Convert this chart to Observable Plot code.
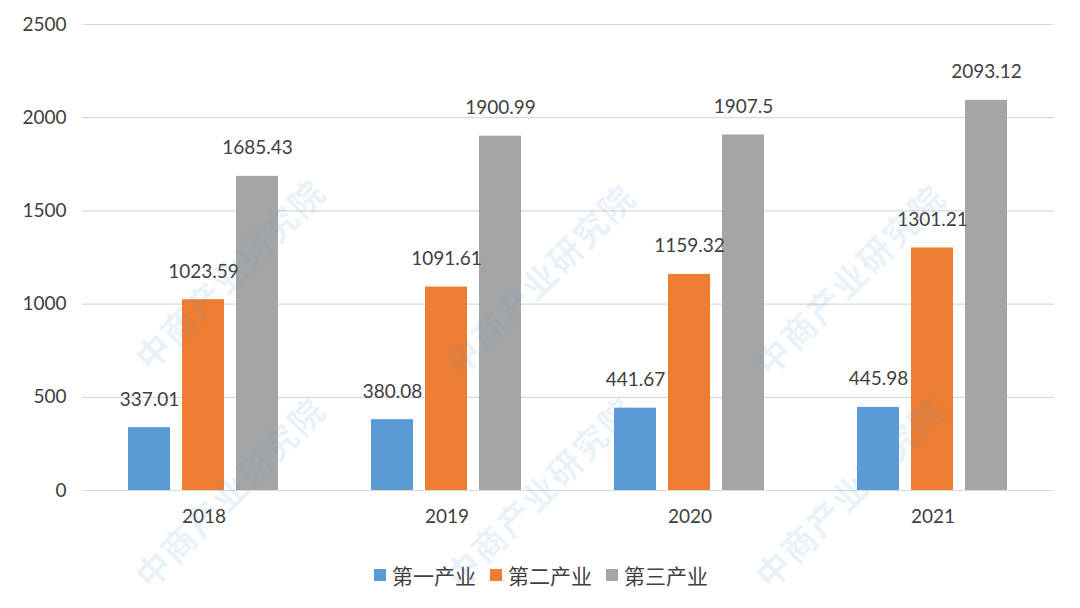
<!DOCTYPE html>
<html>
<head>
<meta charset="utf-8">
<script src="https://cdn.jsdelivr.net/npm/d3@7"></script>
<script src="https://cdn.jsdelivr.net/npm/@observablehq/plot@0.6"></script>
<style>
  html, body { margin: 0; padding: 0; background: #fff; }
  body { width: 1080px; height: 608px; overflow: hidden; position: relative; font-family: Lato, "Noto Sans CJK SC", sans-serif; }
  #chart { position: relative; z-index: 1; }
  #legend { position: absolute; left: 0; top: 560px; width: 1080px; display: flex; justify-content: center; gap: 12px; z-index: 1;
            font-family: "Noto Sans CJK SC", sans-serif; font-size: 21px; color: #404040; }
  .item { display: flex; align-items: center; }
  .sw { width: 12px; height: 12px; margin-right: 6px; margin-left: 2px; }
  .wm { position: absolute; z-index: 2; pointer-events: none; font-family: "Noto Sans CJK SC", sans-serif; font-size: 34px; font-weight: 700;
        color: rgba(91,155,213,0.13); transform: rotate(-45deg); transform-origin: left center; white-space: nowrap; letter-spacing: 2px; }
</style>
</head>
<body>
<div id="chart"></div>
<div id="legend"></div>
<script>
const years = ["2018", "2019", "2020", "2021"];
const series = ["第一产业", "第二产业", "第三产业"];
const primary = [337.01, 380.08, 441.67, 445.98];
const secondary = [1023.59, 1091.61, 1159.32, 1301.21];
const tertiary = [1685.43, 1900.99, 1907.5, 2093.12];
const colors = ["#5B9BD5", "#ED7D31", "#A5A5A5"];
const yTicks = [0, 500, 1000, 1500, 2000, 2500];

const seriesValues = [primary, secondary, tertiary];
const data = [];
years.forEach((yr, i) => {
  series.forEach((s, j) => data.push({year: yr, series: s, value: seriesValues[j][i]}));
});

const chart = Plot.plot({
  width: 1080,
  height: 545,
  marginLeft: 80,
  marginRight: 25,
  marginTop: 24,
  marginBottom: 55,
  style: {fontFamily: "Lato, sans-serif", color: "#404040", background: "transparent"},
  fx: {domain: years, padding: 0, label: null},
  x: {domain: series, paddingInner: 0.222, paddingOuter: 0.861, axis: null},
  y: {domain: [0, 2500], label: null},
  color: {domain: series, range: colors},
  marks: [
    Plot.gridY(yTicks, {stroke: "#d9d9d9", strokeOpacity: 1, strokeWidth: 1.2}),
    Plot.axisY(yTicks, {tickSize: 0, tickPadding: 16, fontSize: 19, label: null, fill: "#404040", tickFormat: d => String(d)}),
    Plot.axisFx({anchor: "bottom", tickSize: 0, tickPadding: 19, fontSize: 19, label: null, fill: "#404040"}),
    Plot.barY(data, {fx: "year", x: "series", y: "value", fill: "series"}),
    Plot.text(data, {fx: "year", x: "series", y: "value", text: d => String(d.value), dy: -28, fontSize: 19, fill: "#404040"})
  ]
});
document.getElementById("chart").appendChild(chart);

const legend = document.getElementById("legend");
series.forEach((s, j) => {
  const it = document.createElement("div");
  it.className = "item";
  it.innerHTML = `<span class="sw" style="background:${colors[j]}"></span><span>${s}</span>`;
  legend.appendChild(it);
});

// faint watermark text (decorative)
const wmSpots = [[140,360],[450,365],[760,365],[140,578],[450,578],[760,578]];
wmSpots.forEach(([x, y]) => {
  const d = document.createElement("div");
  d.className = "wm";
  d.style.left = x + "px";
  d.style.top = (y - 22) + "px";
  d.textContent = "中商产业研究院";
  document.body.appendChild(d);
});
</script>
</body>
</html>
